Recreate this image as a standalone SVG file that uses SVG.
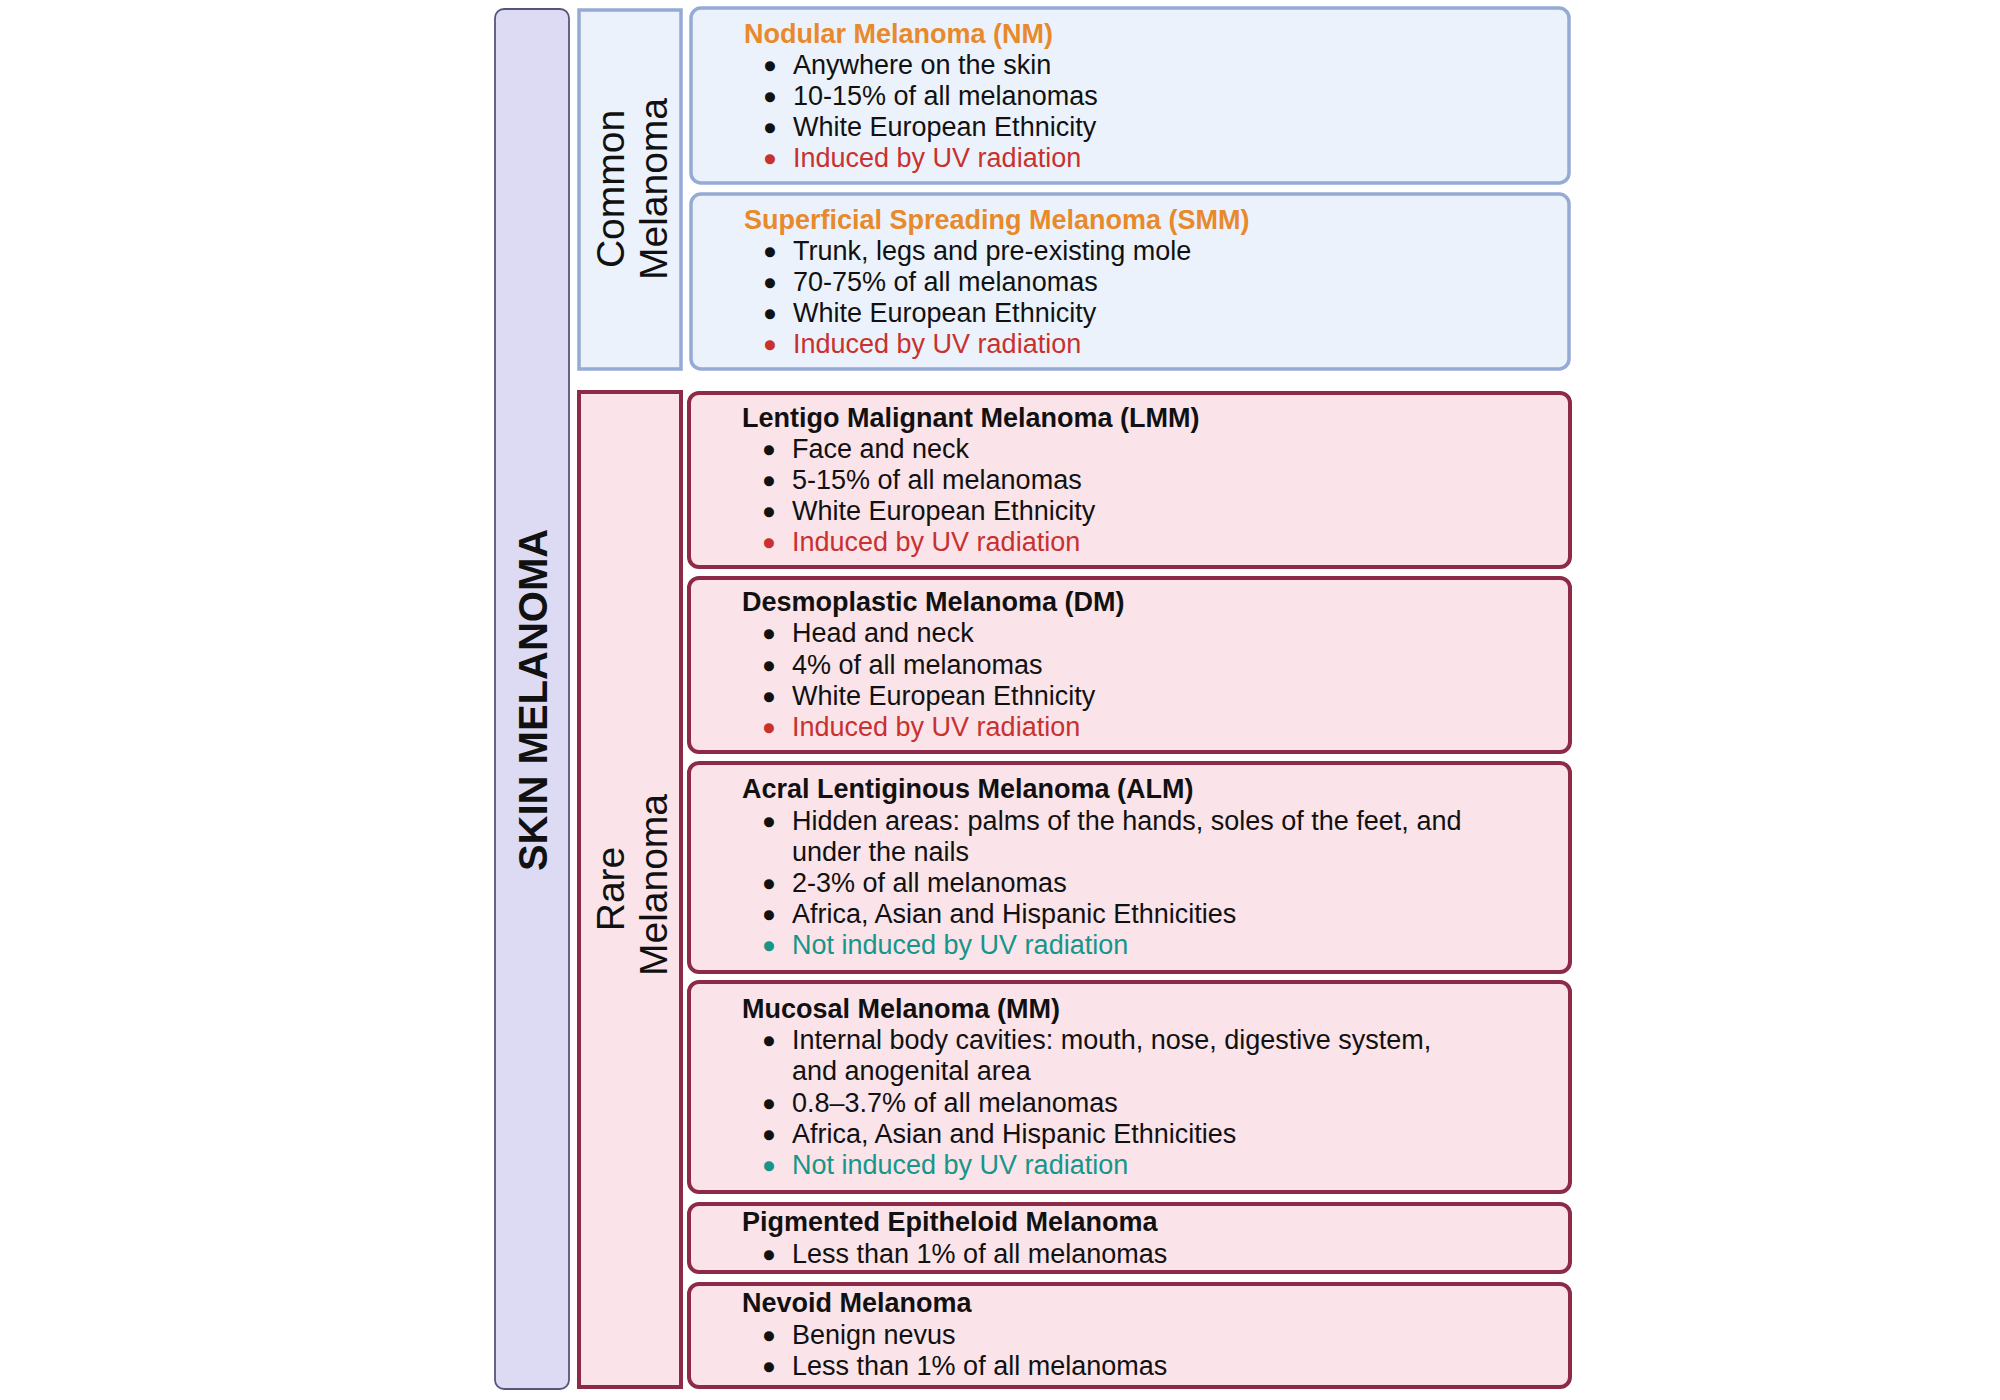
<svg xmlns="http://www.w3.org/2000/svg" width="2000" height="1400" viewBox="0 0 2000 1400">
<style>
text{font-family:"Liberation Sans",Arial,sans-serif;font-size:27px;fill:#111}
.t{font-weight:bold}
.o{fill:#e8892c}
.r{fill:#c8312e}
.g{fill:#159689}
.bl{text-anchor:middle;stroke:#111;stroke-width:2.6;stroke-linejoin:round}
.bl.r{stroke:#c8312e}
.bl.g{stroke:#159689}
.blue{fill:#ebf2fb;stroke:#95aad5;stroke-width:3.5}
.red{fill:#fae3e9;stroke:#8c2a47;stroke-width:4}
.side{font-size:39px;text-anchor:middle}
</style>
<rect width="2000" height="1400" fill="#fff"/>
<g id="skin-melanoma">
<rect x="495" y="9" width="74" height="1380" rx="9" fill="#dddaf3" stroke="#56547f" stroke-width="1.8"/>
<text class="t" style="font-size:40px;text-anchor:middle" transform="translate(547,700) rotate(-90)">SKIN MELANOMA</text>
</g>
<g id="common-melanoma">
<rect x="579" y="10" width="102" height="359" class="blue"/>
<text class="side" transform="translate(624,189) rotate(-90)">Common</text>
<text class="side" transform="translate(667,189) rotate(-90)">Melanoma</text>
</g>
<g id="rare-melanoma">
<rect x="579" y="392" width="102" height="995" class="red"/>
<text class="side" transform="translate(624,889) rotate(-90)">Rare</text>
<text class="side" transform="translate(667,885) rotate(-90)">Melanoma</text>
</g>
<g id="nm">
<rect x="691" y="8" width="878" height="175" rx="10" class="blue"/>
<text class="t o" x="744" y="43">Nodular Melanoma (NM)</text>
<text class="bl" x="770" y="75">•</text><text x="793" y="74">Anywhere on the skin</text>
<text class="bl" x="770" y="106">•</text><text x="793" y="105">10-15% of all melanomas</text>
<text class="bl" x="770" y="137">•</text><text x="793" y="136">White European Ethnicity</text>
<text class="bl r" x="770" y="168">•</text><text class="r" x="793" y="167">Induced by UV radiation</text>
</g>
<g id="smm">
<rect x="691" y="194" width="878" height="175" rx="10" class="blue"/>
<text class="t o" x="744" y="229">Superficial Spreading Melanoma (SMM)</text>
<text class="bl" x="770" y="261">•</text><text x="793" y="260">Trunk, legs and pre-existing mole</text>
<text class="bl" x="770" y="292">•</text><text x="793" y="291">70-75% of all melanomas</text>
<text class="bl" x="770" y="323">•</text><text x="793" y="322">White European Ethnicity</text>
<text class="bl r" x="770" y="354">•</text><text class="r" x="793" y="353">Induced by UV radiation</text>
</g>
<g id="lmm">
<rect x="689" y="393" width="881" height="174" rx="10" class="red"/>
<text class="t" x="742" y="427">Lentigo Malignant Melanoma (LMM)</text>
<text class="bl" x="769" y="459">•</text><text x="792" y="458">Face and neck</text>
<text class="bl" x="769" y="490">•</text><text x="792" y="489">5-15% of all melanomas</text>
<text class="bl" x="769" y="521">•</text><text x="792" y="520">White European Ethnicity</text>
<text class="bl r" x="769" y="552">•</text><text class="r" x="792" y="551">Induced by UV radiation</text>
</g>
<g id="dm">
<rect x="689" y="578" width="881" height="174" rx="10" class="red"/>
<text class="t" x="742" y="611">Desmoplastic Melanoma (DM)</text>
<text class="bl" x="769" y="643">•</text><text x="792" y="642">Head and neck</text>
<text class="bl" x="769" y="675">•</text><text x="792" y="674">4% of all melanomas</text>
<text class="bl" x="769" y="706">•</text><text x="792" y="705">White European Ethnicity</text>
<text class="bl r" x="769" y="737">•</text><text class="r" x="792" y="736">Induced by UV radiation</text>
</g>
<g id="alm">
<rect x="689" y="763" width="881" height="209" rx="10" class="red"/>
<text class="t" x="742" y="798">Acral Lentiginous Melanoma (ALM)</text>
<text class="bl" x="769" y="831">•</text><text x="792" y="830">Hidden areas: palms of the hands, soles of the feet, and</text>
<text x="792" y="861">under the nails</text>
<text class="bl" x="769" y="893">•</text><text x="792" y="892">2-3% of all melanomas</text>
<text class="bl" x="769" y="924">•</text><text x="792" y="923">Africa, Asian and Hispanic Ethnicities</text>
<text class="bl g" x="769" y="955">•</text><text class="g" x="792" y="954">Not induced by UV radiation</text>
</g>
<g id="mm">
<rect x="689" y="982" width="881" height="210" rx="10" class="red"/>
<text class="t" x="742" y="1018">Mucosal Melanoma (MM)</text>
<text class="bl" x="769" y="1050">•</text><text x="792" y="1049">Internal body cavities: mouth, nose, digestive system,</text>
<text x="792" y="1080">and anogenital area</text>
<text class="bl" x="769" y="1113">•</text><text x="792" y="1112">0.8–3.7% of all melanomas</text>
<text class="bl" x="769" y="1144">•</text><text x="792" y="1143">Africa, Asian and Hispanic Ethnicities</text>
<text class="bl g" x="769" y="1175">•</text><text class="g" x="792" y="1174">Not induced by UV radiation</text>
</g>
<g id="pem">
<rect x="689" y="1204" width="881" height="68" rx="10" class="red"/>
<text class="t" x="742" y="1231">Pigmented Epitheloid Melanoma</text>
<text class="bl" x="769" y="1264">•</text><text x="792" y="1263">Less than 1% of all melanomas</text>
</g>
<g id="nevoid">
<rect x="689" y="1284" width="881" height="103" rx="10" class="red"/>
<text class="t" x="742" y="1312">Nevoid Melanoma</text>
<text class="bl" x="769" y="1345">•</text><text x="792" y="1344">Benign nevus</text>
<text class="bl" x="769" y="1376">•</text><text x="792" y="1375">Less than 1% of all melanomas</text>
</g>
<g id="connectors"></g>
</svg>
